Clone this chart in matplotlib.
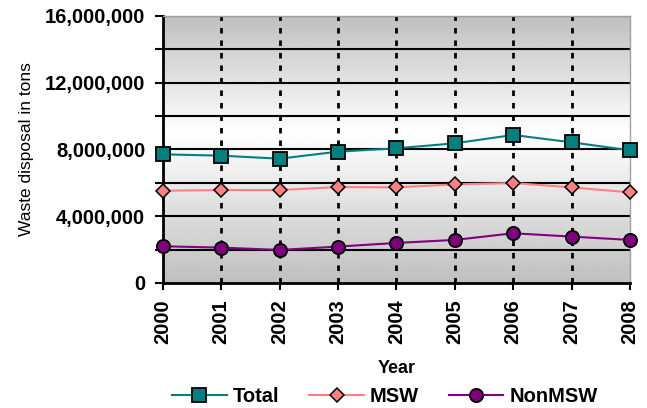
import matplotlib
matplotlib.use("Agg")
import matplotlib.pyplot as plt
import numpy as np
from matplotlib.ticker import FuncFormatter, MultipleLocator

years = ["2000", "2001", "2002", "2003", "2004", "2005", "2006", "2007", "2008"]
total = [7710000, 7630000, 7450000, 7870000, 8070000, 8370000, 8870000, 8430000, 7950000]
msw = [5530000, 5570000, 5570000, 5750000, 5730000, 5910000, 5990000, 5730000, 5430000]
nonmsw = [2200000, 2120000, 1980000, 2180000, 2400000, 2580000, 2980000, 2780000, 2580000]

plt.rcParams['font.family'] = ['Liberation Sans', 'DejaVu Sans']

fig = plt.figure(figsize=(6.47, 4.08), dpi=100)
ax = fig.add_axes([0.2515, 0.3064, 0.9737 - 0.2515, 0.9608 - 0.3064])

x = np.arange(len(years))
ax.set_xlim(0, len(years) - 1)
ax.set_ylim(0, 16000000)

# gradient background: gray top and bottom, white near the middle
yy = np.linspace(0, 1, 256)
center = 0.56
dist = np.where(yy >= center, (yy - center) / (1 - center), (center - yy) / center)
vals = 1.0 - (1.0 - 0.75) * dist
img = np.repeat(vals[:, None], 2, axis=1)
ax.imshow(img, cmap='gray', vmin=0, vmax=1, origin='lower', aspect='auto',
          extent=[0, len(years) - 1, 0, 16000000], zorder=0, interpolation='bilinear')

# grid lines
for yv in range(2000000, 16000001, 2000000):
    ax.axhline(yv, color='black', lw=1.5, zorder=1)
for xv in x[1:-1]:
    ax.axvline(xv, color='black', lw=2, ls=(0, (2, 2.5)), zorder=1)

ax.plot(x, total, color='#008080', lw=1.5, marker='s', ms=9.5, mfc='#008080', mec='black', mew=1.3,
        label='Total', zorder=5, clip_on=False)
ax.plot(x, msw, color='#FF8080', lw=1.5, marker='D', ms=7.5, mfc='#FF8080', mec='black', mew=1.1,
        label='MSW', zorder=4, clip_on=False)
ax.plot(x, nonmsw, color='#800080', lw=1.5, marker='o', ms=9.5, mfc='#800080', mec='black', mew=1.3,
        label='NonMSW', zorder=4, clip_on=False)

ax.yaxis.set_major_locator(MultipleLocator(4000000))
ax.yaxis.set_minor_locator(MultipleLocator(2000000))
ax.yaxis.set_major_formatter(FuncFormatter(lambda v, p: f"{int(v):,}"))
ax.set_xticks(x)
ax.set_xticklabels(years, rotation=90, fontsize=14.5, fontweight='bold')
for lab in ax.get_yticklabels():
    lab.set_fontsize(14.5)
    lab.set_fontweight('bold')
ax.tick_params(axis='y', which='both', direction='out', length=6, width=1.5, color='black', pad=6.5)
ax.tick_params(axis='x', which='both', direction='out', length=5, width=1.5, color='black', pad=7)

for s in ['left', 'bottom']:
    ax.spines[s].set_color('black')
    ax.spines[s].set_linewidth(2)
for s in ['top', 'right']:
    ax.spines[s].set_color('#a0a0a0')
    ax.spines[s].set_linewidth(1)

ax.set_ylabel('Waste disposal in tons', fontsize=12.5, labelpad=8)
ax.set_xlabel('Year', fontsize=13, fontweight='bold', labelpad=11)

leg = fig.legend(loc='center', bbox_to_anchor=(0.595, 0.028), ncol=3, frameon=False,
                 prop={'size': 14.5, 'weight': 'bold'}, handlelength=2.7, columnspacing=1.5,
                 handletextpad=0.3)

fig.savefig('out.png', dpi=100)
